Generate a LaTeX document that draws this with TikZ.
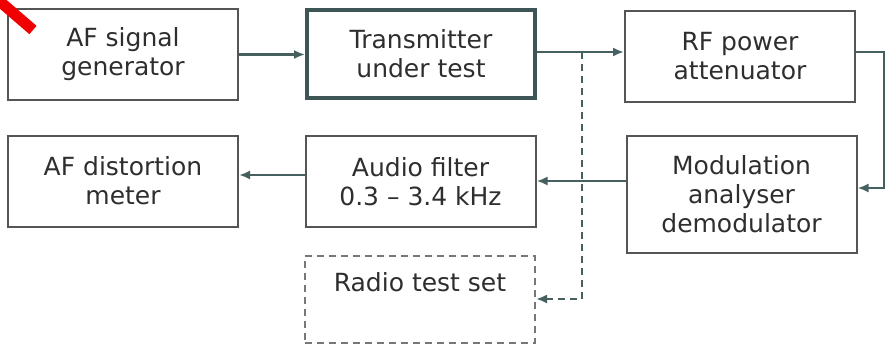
\documentclass[tikz,border=0pt]{standalone}
\usepackage{fontspec}
\setmainfont{DejaVu Sans}
\usetikzlibrary{positioning,arrows.meta,calc}

\definecolor{wire}{HTML}{46605F}
\definecolor{boxline}{HTML}{555555}
\definecolor{txline}{HTML}{3D5555}
\definecolor{ink}{HTML}{2E2E2E}
\definecolor{marker}{HTML}{F00000}

\tikzset{
    unit/.style={draw=boxline, line width=2pt, minimum width=230pt, minimum height=91pt,
        inner sep=0pt, align=center, text=ink, font=\fontsize{25}{29}\selectfont},
    dutbox/.style={unit, draw=txline, line width=3.8pt, minimum width=228pt, minimum height=88pt},
    dashunit/.style={unit, draw=boxline!80, dash pattern=on 7pt off 5pt},
    wire/.style={draw=wire, line width=2.4pt},
    feed/.style={wire, -{Latex[length=11pt,width=9pt]}},
    probe/.style={draw=wire, line width=2.2pt, dash pattern=on 7pt off 5pt,
        -{Latex[length=11pt,width=9pt]}}
}

\begin{document}
\begin{tikzpicture}[x=1pt, y=-1pt]
    \useasboundingbox (0,0) rectangle (888,346);

    % top row
    \node[unit]   (gen) at (123,54.5) {AF signal\\generator};
    \node[dutbox] (dut) at (421,54)   {Transmitter\\under test};
    \node[unit]   (att) at (740,56.5) {RF power\\attenuator};

    % middle row
    \node[unit] (dist) at (123,181)   {AF distortion\\meter};
    \node[unit] (filt) at (420.5,181.5) {Audio filter\\0.3 – 3.4 kHz};
    \node[unit, minimum height=117pt] (mod) at (741.5,194.5) {Modulation\\analyser\\demodulator};

    % optional test set
    \node[dashunit, minimum height=87pt] (rts) at (420,299.5) {};
    \node[text=ink, font=\fontsize{25}{29}\selectfont, anchor=north] (rtstext) at ($(rts.north)+(0,14)$) {Radio test set};

    \coordinate (tap)   at (582,52);
    \coordinate (tapdn) at (582,299);
    \coordinate (ne)    at (884,52);
    \coordinate (se)    at (884,188);

    % connections
    \draw[feed] (gen.east) -- (gen.east -| dut.west);
    \draw[feed] (dut.east |- tap) -- (att.west |- tap);
    \draw[feed] (att.east |- ne) -- (ne) -- (se) -- (mod.east |- se);
    \draw[feed] (mod.west |- 0,181) -- (filt.east |- 0,181);
    \draw[feed] (filt.west |- 0,175) -- (dist.east |- 0,175);
    \draw[probe] (tap) -- (tapdn) -- (rts.east |- tapdn);

    % marker stroke
    \draw[marker, line width=11pt] (-3,-1) -- (33,30);
\end{tikzpicture}
\end{document}
